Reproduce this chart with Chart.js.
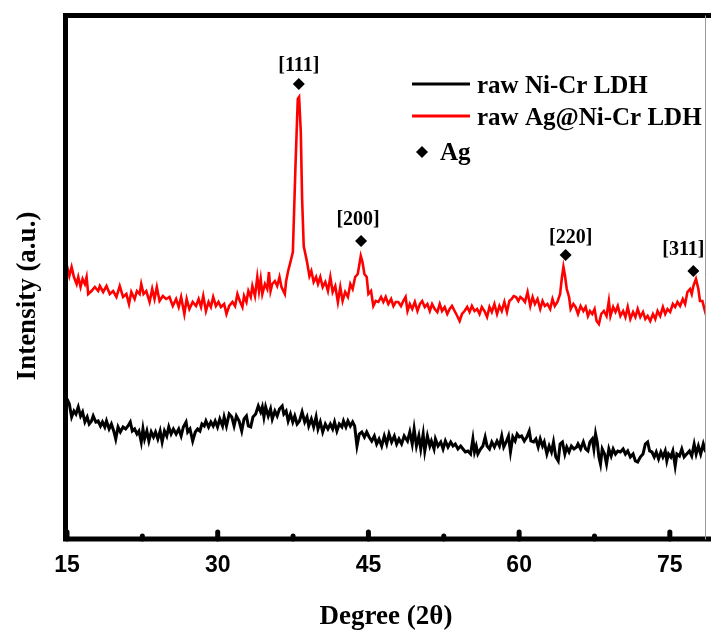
<!DOCTYPE html>
<html>
<head>
<meta charset="utf-8">
<title>XRD patterns</title>
<script src="https://cdn.jsdelivr.net/npm/chart.js@4.4.1/dist/chart.umd.min.js"></script>
<style>
    html, body { margin: 0; padding: 0; background: #fff; }
    #wrap { width: 711px; height: 633px; position: relative; }
</style>
</head>
<body>
<div id="wrap"><canvas id="xrdChart"></canvas></div>
<script>
// 2-theta (deg) and intensity (a.u.) for each scan
const ldhTheta = [
    15.00, 15.23, 15.46, 15.69, 15.89, 16.12, 16.35, 16.55, 16.78, 17.01, 17.21, 17.44, 17.61, 17.87, 18.10, 18.33,
    18.53, 18.76, 18.93, 19.19, 19.42, 19.65, 19.85, 20.08, 20.31, 20.58, 20.84, 21.07, 21.30, 21.50, 21.73, 21.96,
    22.16, 22.39, 22.56, 22.72, 22.95, 23.15, 23.38, 23.61, 23.81, 24.04, 24.27, 24.47, 24.70, 24.93, 25.13, 25.36,
    25.59, 25.86, 26.12, 26.36, 26.58, 26.85, 27.01, 27.24, 27.51, 27.77, 28.00, 28.23, 28.43, 28.66, 28.83, 29.09,
    29.32, 29.55, 29.75, 29.98, 30.21, 30.48, 30.64, 30.87, 31.14, 31.40, 31.63, 31.86, 32.13, 32.39, 32.62, 32.86,
    33.05, 33.29, 33.51, 33.78, 34.04, 34.28, 34.44, 34.60, 34.77, 35.03, 35.26, 35.43, 35.69, 35.92, 36.15, 36.42,
    36.58, 36.81, 37.01, 37.24, 37.47, 37.67, 37.90, 38.14, 38.40, 38.66, 38.89, 39.06, 39.32, 39.55, 39.79, 39.98,
    40.21, 40.45, 40.71, 40.97, 41.21, 41.44, 41.63, 41.86, 42.10, 42.36, 42.52, 42.76, 42.96, 43.20, 43.43, 43.63,
    43.86, 44.09, 44.34, 44.60, 44.83, 45.07, 45.33, 45.59, 45.82, 46.06, 46.32, 46.58, 46.82, 47.05, 47.31, 47.58,
    47.81, 48.04, 48.30, 48.56, 48.89, 49.12, 49.36, 49.55, 49.78, 50.02, 50.21, 50.45, 50.61, 50.87, 51.11, 51.27,
    51.53, 51.67, 51.93, 52.20, 52.43, 52.66, 52.92, 53.19, 53.42, 53.65, 53.91, 54.18, 54.41, 54.65, 54.90, 55.17,
    55.40, 55.56, 55.73, 55.89, 56.16, 56.39, 56.62, 56.81, 57.05, 57.28, 57.54, 57.80, 58.04, 58.27, 58.47, 58.71,
    58.94, 59.14, 59.37, 59.60, 59.80, 60.02, 60.25, 60.51, 60.77, 61.01, 61.17, 61.44, 61.67, 61.90, 62.10, 62.33,
    62.50, 62.76, 62.99, 63.22, 63.42, 63.65, 63.89, 64.08, 64.31, 64.55, 64.74, 64.97, 65.20, 65.46, 65.72, 65.86,
    66.12, 66.39, 66.62, 66.85, 67.05, 67.28, 67.44, 67.61, 67.77, 67.94, 68.10, 68.27, 68.50, 68.70, 68.93, 69.16,
    69.36, 69.59, 69.82, 70.08, 70.35, 70.58, 70.81, 71.07, 71.34, 71.57, 71.80, 72.06, 72.33, 72.56, 72.79, 72.99,
    73.22, 73.45, 73.65, 73.88, 74.11, 74.31, 74.54, 74.70, 74.87, 75.10, 75.30, 75.53, 75.70, 75.96, 76.19, 76.42,
    76.68, 76.95, 77.18, 77.42, 77.62, 77.84, 78.07, 78.33, 78.56
];
const ldhCounts = [
    140, 135, 122, 128, 125, 132, 123, 127, 117, 122, 115, 118, 123, 117, 118, 113,
    117, 112, 118, 110, 115, 108, 100, 112, 107, 112, 110, 113, 117, 108, 110, 105,
    108, 97, 110, 100, 108, 98, 107, 102, 107, 100, 108, 97, 108, 103, 112, 105,
    110, 105, 110, 103, 112, 117, 107, 110, 98, 107, 110, 108, 115, 113, 118, 112,
    117, 113, 118, 112, 120, 113, 122, 113, 125, 122, 113, 123, 118, 108, 120, 123,
    113, 112, 122, 125, 133, 127, 132, 122, 132, 123, 130, 120, 128, 123, 130, 133,
    125, 128, 118, 125, 117, 123, 115, 118, 127, 117, 122, 113, 120, 112, 122, 110,
    117, 107, 115, 110, 115, 110, 117, 108, 115, 112, 118, 112, 118, 113, 117, 113,
    93, 105, 107, 102, 107, 102, 98, 103, 95, 100, 93, 103, 95, 105, 97, 103,
    95, 100, 95, 103, 98, 107, 95, 110, 93, 103, 90, 105, 88, 103, 93, 98,
    90, 100, 93, 97, 90, 98, 92, 97, 93, 95, 90, 93, 90, 87, 88, 85,
    100, 87, 93, 85, 90, 93, 102, 93, 90, 97, 92, 98, 93, 103, 92, 97,
    103, 87, 102, 98, 105, 102, 103, 98, 102, 108, 98, 97, 100, 92, 100, 93,
    97, 85, 93, 87, 97, 82, 78, 95, 97, 85, 92, 87, 93, 90, 92, 95,
    90, 97, 90, 88, 97, 100, 90, 105, 97, 82, 75, 90, 85, 75, 90, 83,
    90, 85, 88, 87, 90, 85, 88, 82, 85, 78, 77, 82, 85, 95, 97, 88,
    87, 82, 87, 80, 87, 82, 88, 78, 85, 82, 88, 73, 85, 83, 90, 82,
    85, 88, 83, 95, 85, 93, 85, 95, 87
];

const agTheta = [
    15.00, 15.23, 15.46, 15.69, 15.96, 16.12, 16.35, 16.55, 16.78, 16.95, 17.11, 17.44, 17.77, 18.10, 18.27, 18.60,
    18.93, 19.26, 19.59, 19.92, 20.25, 20.58, 20.91, 21.17, 21.40, 21.73, 21.96, 22.23, 22.39, 22.62, 22.89, 23.22,
    23.48, 23.71, 23.94, 24.21, 24.54, 24.87, 25.20, 25.53, 25.86, 26.12, 26.36, 26.68, 26.91, 27.18, 27.51, 27.84,
    28.10, 28.34, 28.56, 28.83, 29.09, 29.32, 29.55, 29.82, 30.08, 30.32, 30.64, 30.87, 31.14, 31.47, 31.73, 31.96,
    32.20, 32.46, 32.62, 32.86, 33.05, 33.29, 33.45, 33.71, 33.94, 34.11, 34.28, 34.44, 34.70, 34.93, 35.10, 35.26,
    35.43, 35.69, 35.92, 36.15, 36.35, 36.68, 36.81, 37.01, 37.24, 37.48, 37.74, 37.97, 38.10, 38.27, 38.40, 38.56,
    38.89, 39.13, 39.32, 39.55, 39.79, 39.98, 40.21, 40.45, 40.71, 40.97, 41.21, 41.44, 41.70, 41.96, 42.20, 42.43,
    42.69, 42.96, 43.20, 43.43, 43.68, 43.94, 44.24, 44.41, 44.60, 44.83, 45.00, 45.26, 45.49, 45.73, 45.99, 46.26,
    46.49, 46.72, 46.98, 47.26, 47.49, 47.72, 47.97, 48.24, 48.47, 48.70, 48.89, 49.12, 49.36, 49.62, 49.88, 50.12,
    50.35, 50.61, 50.87, 51.11, 51.34, 51.60, 51.86, 52.10, 52.33, 52.59, 52.85, 53.09, 53.32, 53.58, 53.84, 54.08,
    54.31, 54.57, 54.83, 55.07, 55.30, 55.56, 55.82, 56.06, 56.29, 56.55, 56.81, 57.05, 57.28, 57.54, 57.80, 58.04,
    58.27, 58.53, 58.79, 59.03, 59.26, 59.46, 59.69, 59.92, 60.12, 60.35, 60.58, 60.84, 61.11, 61.34, 61.57, 61.83,
    62.10, 62.33, 62.56, 62.82, 63.09, 63.32, 63.55, 63.81, 64.08, 64.24, 64.41, 64.57, 64.74, 64.97, 65.13, 65.40,
    65.62, 65.86, 66.12, 66.39, 66.62, 66.85, 67.05, 67.28, 67.51, 67.71, 67.94, 68.17, 68.43, 68.70, 68.93, 69.09,
    69.36, 69.59, 69.82, 70.08, 70.35, 70.58, 70.81, 71.07, 71.34, 71.57, 71.80, 72.06, 72.33, 72.56, 72.79, 73.05,
    73.32, 73.55, 73.78, 74.04, 74.31, 74.54, 74.77, 75.03, 75.30, 75.53, 75.76, 76.02, 76.29, 76.52, 76.75, 77.01,
    77.18, 77.34, 77.60, 77.84, 78.00, 78.24, 78.44, 78.66
];
const agCounts = [
    273, 263, 272, 262, 255, 262, 252, 260, 255, 262, 245, 248, 252, 248, 253, 247,
    253, 245, 248, 242, 253, 242, 245, 235, 247, 240, 248, 245, 255, 245, 248, 237,
    250, 240, 252, 238, 243, 240, 242, 233, 240, 232, 242, 225, 240, 230, 237, 233,
    240, 232, 243, 228, 237, 232, 242, 233, 237, 232, 235, 225, 233, 237, 233, 245,
    238, 232, 243, 237, 248, 242, 253, 243, 262, 248, 260, 245, 255, 250, 267, 248,
    255, 258, 253, 262, 252, 245, 258, 268, 277, 287, 373, 440, 442, 407, 340, 293,
    277, 263, 268, 257, 262, 255, 262, 252, 257, 248, 262, 247, 253, 237, 252, 238,
    247, 242, 255, 250, 262, 265, 283, 277, 265, 262, 245, 248, 233, 238, 237, 242,
    237, 242, 235, 240, 233, 237, 237, 233, 238, 242, 228, 235, 230, 237, 228, 235,
    238, 232, 235, 228, 235, 230, 227, 235, 228, 232, 225, 230, 233, 228, 223, 218,
    225, 228, 232, 227, 233, 228, 230, 225, 232, 228, 222, 232, 227, 235, 225, 233,
    228, 237, 227, 238, 240, 243, 242, 238, 242, 240, 237, 247, 233, 242, 235, 240,
    230, 238, 233, 235, 230, 240, 233, 237, 245, 260, 272, 263, 250, 242, 230, 235,
    232, 225, 233, 228, 232, 223, 228, 225, 230, 218, 215, 225, 228, 223, 238, 223,
    232, 227, 233, 223, 228, 222, 232, 220, 227, 222, 230, 222, 227, 220, 223, 218,
    225, 220, 228, 223, 232, 225, 230, 227, 235, 232, 237, 233, 240, 235, 247, 250,
    245, 253, 260, 250, 238, 238, 230, 222
];

// Ag reflections (fcc) and the markers above them
const agPeakTheta = [38.07, 44.27, 64.63, 77.34];
const agPeakMark = [455, 298, 284, 268];
const agPeakHkl = ['[111]', '[200]', '[220]', '[311]'];

const xTicks = [15, 30, 45, 60, 75];
const xMinorTicks = [22.5, 37.5, 52.5, 67.5];

const toPoints = (xs, ys) => xs.map((x, i) => ({ x: x, y: ys[i] }));

const serif = '"Liberation Serif", "Times New Roman", serif';
const sans = '"Liberation Sans", Arial, sans-serif';

// frame, inward ticks, y title, legend and hkl labels
const decorations = {
    id: 'decorations',
    afterDraw(chart) {
        const ctx = chart.ctx;
        const area = chart.chartArea;
        const xs = chart.scales.x;
        const ys = chart.scales.y;
        ctx.save();

        // frame
        ctx.strokeStyle = '#000';
        ctx.lineWidth = 5;
        ctx.lineCap = 'square';
        ctx.beginPath();
        ctx.moveTo(area.left - 1.5, area.top - 0.5);
        ctx.lineTo(area.left - 1.5, area.bottom);
        ctx.lineTo(chart.width, area.bottom);
        ctx.moveTo(area.left - 1.5, area.top - 0.5);
        ctx.lineTo(chart.width, area.top - 0.5);
        ctx.stroke();
        ctx.strokeStyle = '#999';
        ctx.lineWidth = 1;
        ctx.beginPath();
        ctx.moveTo(area.right + 0.5, area.top);
        ctx.lineTo(area.right + 0.5, area.bottom);
        ctx.stroke();

        // ticks pointing inwards
        ctx.strokeStyle = '#000';
        ctx.lineCap = 'round';
        ctx.lineWidth = 5;
        xTicks.forEach(v => {
            const px = xs.getPixelForValue(v);
            ctx.beginPath();
            ctx.moveTo(px, area.bottom);
            ctx.lineTo(px, area.bottom - 7);
            ctx.stroke();
        });
        xMinorTicks.forEach(v => {
            const px = xs.getPixelForValue(v);
            ctx.beginPath();
            ctx.moveTo(px, area.bottom);
            ctx.lineTo(px, area.bottom - 3);
            ctx.stroke();
        });

        // y axis title
        ctx.fillStyle = '#000';
        ctx.font = 'bold 27px ' + serif;
        ctx.textAlign = 'center';
        ctx.textBaseline = 'middle';
        ctx.save();
        ctx.translate(28, 296);
        ctx.rotate(-Math.PI / 2);
        ctx.fillText('Intensity (a.u.)', 0, 0);
        ctx.restore();

        // hkl labels above the Ag markers
        const shift = [[0, -18], [-3, -21], [5, -17], [-10, -21]];
        ctx.font = 'bold 20px ' + serif;
        agPeakTheta.forEach((t, i) => {
            const px = xs.getPixelForValue(t) + shift[i][0];
            const py = ys.getPixelForValue(agPeakMark[i]) + shift[i][1];
            ctx.fillText(agPeakHkl[i], px, py);
        });

        // legend
        const sets = chart.data.datasets;
        ctx.font = 'bold 25px ' + serif;
        ctx.textAlign = 'left';
        ctx.textBaseline = 'alphabetic';
        const rows = [84, 116];
        [0, 1].forEach(i => {
            ctx.strokeStyle = sets[i].borderColor;
            ctx.lineWidth = 3;
            ctx.lineCap = 'butt';
            ctx.beginPath();
            ctx.moveTo(412, rows[i]);
            ctx.lineTo(470, rows[i]);
            ctx.stroke();
            ctx.fillText(sets[i].label, 477, rows[i] + 9);
        });
        ctx.beginPath();
        ctx.moveTo(422, 146);
        ctx.lineTo(428, 152);
        ctx.lineTo(422, 158);
        ctx.lineTo(416, 152);
        ctx.closePath();
        ctx.fill();
        ctx.fillText(sets[2].label, 440, 160);

        ctx.restore();
    }
};

new Chart(document.getElementById('xrdChart'), {
    type: 'scatter',
    data: {
        datasets: [{
            label: 'raw Ni-Cr LDH',
            data: toPoints(ldhTheta, ldhCounts),
            showLine: true,
            borderColor: '#000',
            borderWidth: 3,
            pointRadius: 0,
            tension: 0
        }, {
            label: 'raw Ag@Ni-Cr LDH',
            data: toPoints(agTheta, agCounts),
            showLine: true,
            borderColor: '#ff0000',
            borderWidth: 2.6,
            pointRadius: 0,
            tension: 0
        }, {
            label: 'Ag',
            data: toPoints(agPeakTheta, agPeakMark),
            showLine: false,
            pointStyle: 'rectRot',
            pointRadius: 6,
            pointBackgroundColor: '#000',
            pointBorderColor: '#000',
            pointBorderWidth: 0
        }]
    },
    options: {
        responsive: true,
        maintainAspectRatio: false,
        animation: false,
        events: [],
        layout: { padding: { left: 67, right: 2, top: 16, bottom: 0 } },
        plugins: {
            legend: { display: false },
            tooltip: { enabled: false }
        },
        scales: {
            x: {
                type: 'linear',
                min: 15,
                max: 78.5,
                afterBuildTicks: scale => {
                    scale.ticks = xTicks.map(v => ({ value: v }));
                },
                grid: { display: false, drawTicks: false },
                border: { display: false },
                ticks: {
                    color: '#000',
                    padding: 13,
                    font: { family: sans, size: 23, weight: 'bold' }
                },
                title: {
                    display: true,
                    text: 'Degree (2θ)',
                    color: '#000',
                    font: { family: serif, size: 27, weight: 'bold' },
                    padding: { top: 8, bottom: 0 }
                }
            },
            y: {
                display: false,
                min: 0,
                max: 523
            }
        }
    },
    plugins: [decorations]
});
</script>
</body>
</html>
